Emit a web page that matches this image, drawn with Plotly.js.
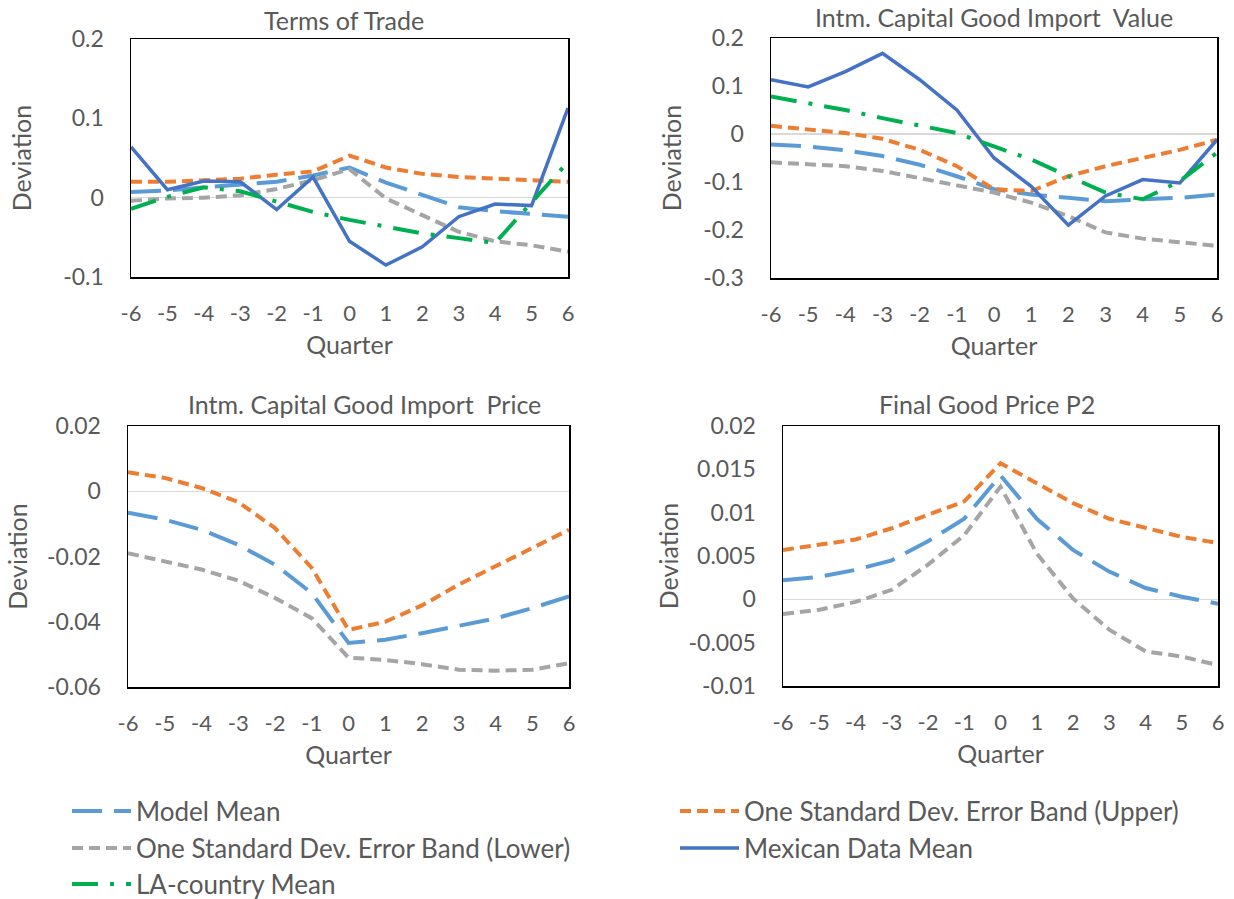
<!DOCTYPE html>
<html>
<head>
<meta charset="utf-8">
<script src="https://cdn.plot.ly/plotly-3.0.1.min.js"></script>
<style>html,body{margin:0;padding:0;background:#fff;}#chart{width:1234px;height:899px;}</style>
</head>
<body>
<div id="chart"></div>
<script>
// ---------- data ----------
var quarters = [-6, -5, -4, -3, -2, -1, 0, 1, 2, 3, 4, 5, 6];
var quarterLabels = ["-6", "-5", "-4", "-3", "-2", "-1", "0", "1", "2", "3", "4", "5", "6"];

var seriesNames = ["Model Mean", "One Standard Dev. Error Band (Upper)", "One Standard Dev. Error Band (Lower)", "Mexican Data Mean", "LA-country Mean"];
var panelTitles = ["Terms of Trade", "Intm. Capital Good Import\u00a0 Value", "Intm. Capital Good Import\u00a0 Price", "Final Good Price P2"];

// Terms of Trade
var totModel    = [0.007, 0.009, 0.013, 0.016, 0.020, 0.028, 0.038, 0.019, 0.003, -0.012, -0.017, -0.020, -0.024];
var totUpper    = [0.020, 0.020, 0.022, 0.024, 0.029, 0.033, 0.053, 0.038, 0.030, 0.026, 0.024, 0.022, 0.020];
var totLower    = [-0.004, -0.001, 0.000, 0.003, 0.011, 0.022, 0.036, -0.001, -0.022, -0.043, -0.055, -0.060, -0.068];
var totMexican  = [0.064, 0.010, 0.021, 0.020, -0.015, 0.026, -0.055, -0.085, -0.062, -0.024, -0.008, -0.010, 0.113];
var totLA       = [-0.014, 0.001, 0.013, 0.008, -0.005, -0.018, -0.028, -0.037, -0.045, -0.051, -0.057, -0.006, 0.045];

// Intm. Capital Good Import Value
var ivModel     = [-0.022, -0.026, -0.034, -0.046, -0.064, -0.088, -0.115, -0.126, -0.133, -0.140, -0.136, -0.133, -0.126];
var ivUpper     = [0.017, 0.010, 0.002, -0.010, -0.033, -0.067, -0.115, -0.119, -0.088, -0.067, -0.050, -0.033, -0.012];
var ivLower     = [-0.059, -0.064, -0.067, -0.077, -0.091, -0.107, -0.122, -0.143, -0.171, -0.205, -0.218, -0.225, -0.233];
var ivMexican   = [0.113, 0.098, 0.130, 0.168, 0.113, 0.050, -0.050, -0.109, -0.190, -0.129, -0.095, -0.102, -0.012];
var ivLA        = [0.078, 0.064, 0.050, 0.033, 0.017, 0.002, -0.026, -0.053, -0.088, -0.122, -0.136, -0.098, -0.039];

// Intm. Capital Good Import Price
var ipModel     = [-0.0066, -0.0087, -0.0118, -0.0164, -0.0225, -0.0312, -0.0465, -0.0455, -0.0435, -0.0414, -0.0390, -0.0358, -0.0322];
var ipUpper     = [0.0058, 0.0041, 0.0010, -0.0033, -0.0113, -0.0235, -0.0425, -0.0400, -0.0350, -0.0286, -0.0230, -0.0174, -0.0118];
var ipLower     = [-0.0190, -0.0215, -0.0240, -0.0274, -0.0327, -0.0389, -0.0510, -0.0517, -0.0530, -0.0547, -0.0550, -0.0547, -0.0527];

// Final Good Price P2
var fpModel     = [0.0022, 0.0026, 0.0034, 0.0045, 0.0067, 0.0093, 0.0143, 0.0093, 0.0057, 0.0032, 0.0013, 0.0003, -0.0005];
var fpUpper     = [0.0057, 0.0063, 0.0069, 0.0082, 0.0097, 0.0113, 0.0157, 0.0134, 0.0111, 0.0093, 0.0082, 0.0072, 0.0065];
var fpLower     = [-0.0017, -0.0012, -0.0003, 0.0011, 0.0040, 0.0074, 0.0130, 0.0053, 0.0001, -0.0035, -0.0060, -0.0066, -0.0076];

// y tick labels
var totTickVals = [-0.1, 0, 0.1, 0.2];
var totTickText = ["-0.1", "0", "0.1", "0.2"];
var ivTickVals  = [-0.3, -0.2, -0.1, 0, 0.1, 0.2];
var ivTickText  = ["-0.3", "-0.2", "-0.1", "0", "0.1", "0.2"];
var ipTickVals  = [-0.06, -0.04, -0.02, 0, 0.02];
var ipTickText  = ["-0.06", "-0.04", "-0.02", "0", "0.02"];
var fpTickVals  = [-0.01, -0.005, 0, 0.005, 0.01, 0.015, 0.02];
var fpTickText  = ["-0.01", "-0.005", "0", "0.005", "0.01", "0.015", "0.02"];

// ---------- styles ----------
var FONT = "Lato, Carlito, Calibri, 'Noto Sans', sans-serif";
var TXT = "#595959";
var styles = [
  {color: "#5B9BD5", width: 4, dash: "30px,12px"},
  {color: "#ED7D31", width: 4, dash: "11px,6px"},
  {color: "#A5A5A5", width: 4, dash: "11px,6px"},
  {color: "#4472C4", width: 3.5, dash: "solid"},
  {color: "#00B050", width: 4, dash: "26px,12px,4px,12px"}
];
var legendFor = ["legend", "legend2", "legend3", "legend4", "legend5"];

var panels = [
  {series: [totModel, totUpper, totLower, totMexican, totLA]},
  {series: [ivModel, ivUpper, ivLower, ivMexican, ivLA]},
  {series: [ipModel, ipUpper, ipLower]},
  {series: [fpModel, fpUpper, fpLower]}
];

var traces = [];
panels.forEach(function (p, pi) {
  var ax = pi === 0 ? "" : String(pi + 1);
  p.series.forEach(function (vals, si) {
    traces.push({
      type: "scatter", mode: "lines",
      x: quarters, y: vals,
      name: seriesNames[si],
      xaxis: "x" + ax, yaxis: "y" + ax,
      line: {color: styles[si].color, width: styles[si].width, dash: styles[si].dash},
      showlegend: pi === 0,
      legend: legendFor[si],
      hoverinfo: "x+y+name"
    });
  });
});

var W = 1234, H = 899;
function dx(a, b) { return [a / W, b / W]; }
function dy(top, bottom) { return [1 - bottom / H, 1 - top / H]; }

function xAxis(domain, anchor) {
  return {
    domain: domain, anchor: anchor, range: [-6, 6],
    tickvals: quarters, ticktext: quarterLabels,
    showgrid: false, zeroline: false, ticks: "",
    showline: true, linecolor: "#000", linewidth: 1.5, mirror: true,
    ticklabelstandoff: 16,
    tickfont: {family: FONT, size: 22, color: TXT},
    title: {text: "Quarter", font: {family: FONT, size: 25, color: TXT}, standoff: 11}
  };
}
function yAxis(domain, anchor, range, vals, text, so) {
  return {
    domain: domain, anchor: anchor, range: range,
    tickvals: vals, ticktext: text,
    showgrid: false, zeroline: true, zerolinecolor: "#D9D9D9", zerolinewidth: 1.2, ticks: "",
    showline: true, linecolor: "#000", linewidth: 1.5, mirror: true,
    ticklabelstandoff: 21,
    tickfont: {family: FONT, size: 23, color: TXT},
    title: {text: "Deviation", font: {family: FONT, size: 25, color: TXT}, standoff: so}
  };
}

function legendAt(x, y) {
  return {
    orientation: "h", x: x / W, xanchor: "left", y: 1 - y / H, yanchor: "middle",
    itemwidth: 59,
    font: {family: FONT, size: 26, color: TXT}, bgcolor: "rgba(0,0,0,0)", borderwidth: 0
  };
}

function titleAnn(text, x, y) {
  return {text: text, x: x / W, y: 1 - y / H, xref: "paper", yref: "paper",
          xanchor: "center", yanchor: "middle", showarrow: false,
          font: {family: FONT, size: 25, color: TXT}};
}

var layout = {
  width: W, height: H,
  margin: {l: 0, r: 0, t: 0, b: 0, autoexpand: false},
  paper_bgcolor: "#fff", plot_bgcolor: "#fff",
  font: {family: FONT, color: TXT},
  xaxis:  xAxis(dx(131, 568), "y"),
  yaxis:  yAxis(dy(39, 277), "x", [-0.1, 0.2], totTickVals, totTickText, 24),
  xaxis2: xAxis(dx(771, 1217), "y2"),
  yaxis2: yAxis(dy(38, 278), "x2", [-0.3, 0.2], ivTickVals, ivTickText, 14),
  xaxis3: xAxis(dx(128, 569), "y3"),
  yaxis3: yAxis(dy(426, 687), "x3", [-0.06, 0.02], ipTickVals, ipTickText, 12),
  xaxis4: xAxis(dx(783, 1218), "y4"),
  yaxis4: yAxis(dy(426, 686), "x4", [-0.01, 0.02], fpTickVals, fpTickText, 3),
  annotations: [
    titleAnn(panelTitles[0], 344, 20),
    titleAnn(panelTitles[1], 994, 17),
    titleAnn(panelTitles[2], 364, 404),
    titleAnn(panelTitles[3], 987, 404)
  ],
  legend:  legendAt(67, 811),
  legend2: legendAt(675, 811),
  legend3: legendAt(67, 848),
  legend4: legendAt(675, 848),
  legend5: legendAt(67, 884),
  showlegend: true
};

Plotly.newPlot("chart", traces, layout, {displayModeBar: false, staticPlot: true});
</script>
</body>
</html>
